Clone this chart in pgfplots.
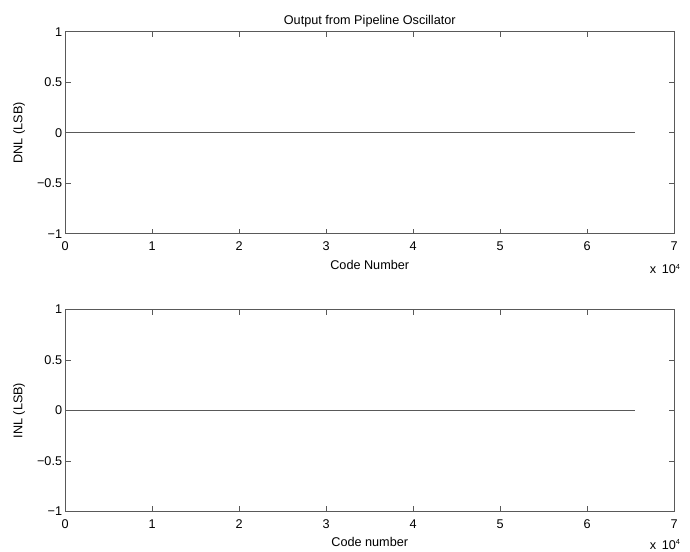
\documentclass[border=0pt]{standalone}
\usepackage{fontspec}
\setmainfont{Liberation Sans}
\usepackage{pgfplots}
\pgfplotsset{compat=1.18}
\begin{document}%
\fontsize{9.5pt}{11pt}\selectfont%
\begin{tikzpicture}[x=0.75pt,y=0.75pt]
\useasboundingbox (0,0) rectangle (690,552);
\pgfplotsset{
  every axis/.append style={
    scale only axis,
    clip mode=individual,
    scaled x ticks=false,
    width=456.75pt, height=151.5pt,
    xmin=0, xmax=70000, ymin=-1, ymax=1,
    xtick={0,10000,20000,30000,40000,50000,60000,70000},
    xticklabels={0,1,2,3,4,5,6,7},
    ytick={-1,-0.5,0,0.5,1},
    yticklabels={−1,−0.5,0,0.5,1},
    tick align=inside,
    major tick length=4pt,
    axis line style={black!65, line width=0.6pt},
    every tick/.style={black!65, line width=0.6pt},
    tick label style={font=\fontsize{9.5pt}{11pt}\selectfont, black},
    label style={font=\fontsize{9.5pt}{11pt}\selectfont, black},
    xticklabel style={yshift=-2.5pt},
    yticklabel style={xshift=1pt},
    xlabel style={yshift=-0.5pt},
    ylabel style={yshift=2.5pt},
  }
}
\begin{axis}[
  at={(75,315)}, anchor=south west,
  xlabel={Code Number}, ylabel={DNL (LSB)},
  title={Output from Pipeline Oscillator},
  title style={font=\fontsize{9.5pt}{11pt}\selectfont, yshift=-6pt},
]
\addplot[black!65, line width=0.6pt] coordinates {(0,0) (65535,0)};
\node[anchor=center, font=\fontsize{9.5pt}{11pt}\selectfont] at ([xshift=-7pt,yshift=-26.5pt]rel axis cs:1,0) {x\, 10\raisebox{3.5pt}{\fontsize{5.5pt}{6pt}\selectfont 4}};
\end{axis}
\begin{axis}[
  at={(75,40)}, anchor=south west,
  xlabel={Code number}, ylabel={INL (LSB)},
]
\addplot[black!65, line width=0.6pt] coordinates {(0,0) (65535,0)};
\node[anchor=center, font=\fontsize{9.5pt}{11pt}\selectfont] at ([xshift=-7pt,yshift=-24.5pt]rel axis cs:1,0) {x\, 10\raisebox{3.5pt}{\fontsize{5.5pt}{6pt}\selectfont 4}};
\end{axis}
\end{tikzpicture}%
\end{document}
